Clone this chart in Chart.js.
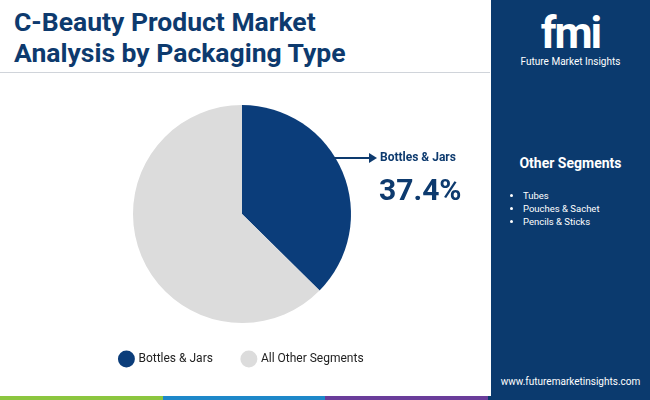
<!DOCTYPE html>
<html><head><meta charset="utf-8">
<script src="https://cdn.jsdelivr.net/npm/chart.js@4"></script>
<style>
body{margin:0;width:650px;height:400px;overflow:hidden;font-family:Roboto,"Open Sans",sans-serif;background:#fff;position:relative}
#title{position:absolute;left:14px;top:6px;font-size:26.5px;font-weight:bold;color:#0d3a6e;line-height:31px}
#rule{position:absolute;left:0;top:72px;width:490px;height:1px;background:#d0d4da}
#side{position:absolute;left:491px;top:0;width:159px;height:400px;background:#0b3a6e}
#wrap{position:absolute;left:0;top:75px;width:484px;height:300px}
.ann{position:absolute;color:#0d3a6e;font-weight:bold}
#stripe{position:absolute;left:0;top:396px;width:650px;height:4px;display:flex}
#stripe div{flex:1}
</style></head><body>
<div id="title">C-Beauty Product Market<br>Analysis by Packaging Type</div>
<div id="rule"></div>
<div id="wrap"><canvas id="pie"></canvas></div>
<svg style="position:absolute;left:333px;top:152px" width="45" height="12"><line x1="0" y1="6" x2="36" y2="6" stroke="#0d3a6e" stroke-width="2"/><polygon points="36,1 44,6 36,11" fill="#0d3a6e"/></svg>
<div class="ann" style="left:380px;top:150px;font-size:12px">Bottles &amp; Jars</div>
<div class="ann" style="left:379px;top:172px;font-size:30px">37.4%</div>
<div id="side">
  <div style="text-align:center;margin-top:10px;color:#fff;font-size:44px;font-weight:bold;letter-spacing:-2px;line-height:46px">fmi</div>
  <div style="text-align:center;color:#fff;font-size:10px">Future Market Insights</div>
  <div style="margin-top:88px;text-align:center;color:#fff;font-weight:bold;font-size:14px">Other Segments</div>
  <ul id="others" style="color:#fff;font-size:9.5px;margin:18px 0 0 0;padding-left:32px;line-height:13px"></ul>
  <div style="position:absolute;top:376px;width:159px;text-align:center;color:#fff;font-size:10px">www.futuremarketinsights.com</div>
</div>
<div id="stripe"><div style="background:#8cc63f"></div><div style="background:#1e88c9"></div><div style="background:#6a3d9a"></div><div style="background:#0b3a6e"></div></div>
<script>
const categories = ["Bottles & Jars", "All Other Segments"];
const shares = [37.4, 62.6];
const colors = ["#0b3d7a", "#dcdcdc"];
const otherSegments = ["Tubes", "Pouches & Sachet", "Pencils & Sticks"];

document.getElementById("others").innerHTML = otherSegments.map(s => `<li>${s}</li>`).join("");

new Chart(document.getElementById("pie"), {
  type: "pie",
  data: { labels: categories, datasets: [{ data: shares, backgroundColor: colors, borderWidth: 0 }] },
  options: {
    responsive: true, maintainAspectRatio: false, animation: false,
    layout: { padding: { top: 30, bottom: 0 } },
    plugins: {
      tooltip: { enabled: false },
      legend: { position: "bottom", labels: { usePointStyle: true, pointStyle: "circle", boxWidth: 16, boxHeight: 16, padding: 30, color: "#222", font: { size: 12, family: "Roboto" } } }
    }
  }
});
</script>
</body></html>
